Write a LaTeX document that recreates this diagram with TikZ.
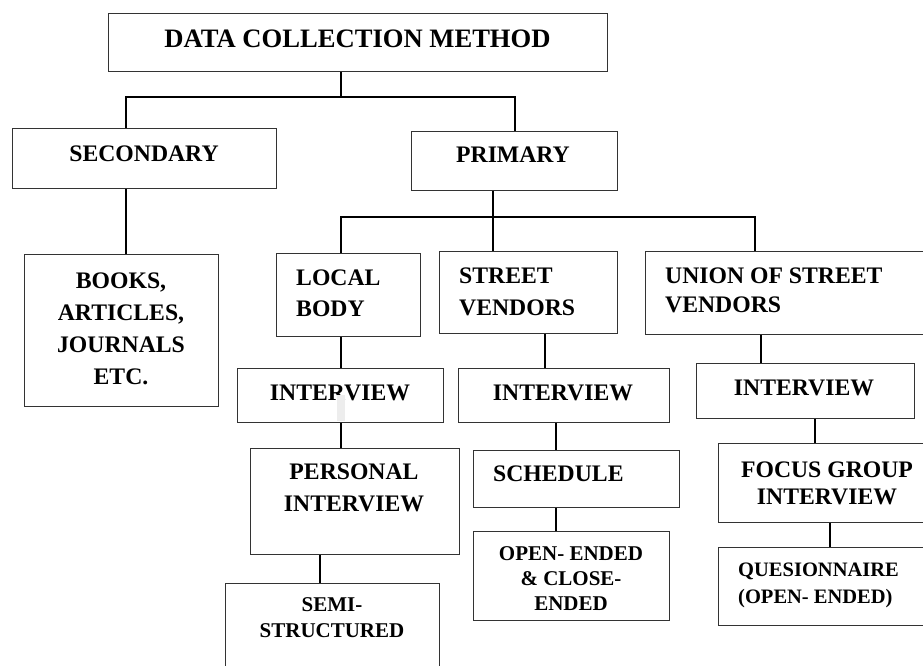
\documentclass[tikz,border=0pt]{standalone}
\usepackage{fontspec}
\setmainfont{Liberation Serif}
\begin{document}
\begin{tikzpicture}[x=1pt,y=-1pt,
  box/.style={draw=black!80, line width=0.9pt, inner sep=0pt, anchor=north west},
  conn/.style={line width=1.6pt, black},
  lbl/.style={inner sep=0pt, font=\bfseries\fontsize{23.7}{32}\selectfont},
  small/.style={inner sep=0pt, font=\bfseries\fontsize{21}{25.4}\selectfont}]
\useasboundingbox (0,0) rectangle (923,666);
\fill[white] (0,0) rectangle (923,666);
\clip (0,0) rectangle (923,666);

% boxes
\node[box, minimum width=499pt, minimum height=58pt]  (top)    at (108,13)  {};
\node[box, minimum width=264pt, minimum height=60pt]  (sec)    at (12,128)  {};
\node[box, minimum width=206pt, minimum height=59pt]  (prim)   at (411,131) {};
\node[box, minimum width=194pt, minimum height=152pt] (books)  at (24,254)  {};
\node[box, minimum width=144pt, minimum height=83pt]  (local)  at (276,253) {};
\node[box, minimum width=178pt, minimum height=82pt]  (street) at (439,251) {};
\node[box, minimum width=290pt, minimum height=83pt]  (union)  at (645,251) {};
\node[box, minimum width=206pt, minimum height=54pt]  (int1)   at (237,368) {};
\node[box, minimum width=211pt, minimum height=54pt]  (int2)   at (458,368) {};
\node[box, minimum width=218pt, minimum height=55pt]  (int3)   at (696,363) {};
\node[box, minimum width=209pt, minimum height=106pt] (pers)   at (250,448) {};
\node[box, minimum width=206pt, minimum height=57pt]  (sched)  at (473,450) {};
\node[box, minimum width=196pt, minimum height=89pt]  (openb)  at (473,531) {};
\node[box, minimum width=214pt, minimum height=100pt] (semi)   at (225,583) {};
\node[box, minimum width=217pt, minimum height=79pt]  (focus)  at (718,443) {};
\node[box, minimum width=217pt, minimum height=78pt]  (quest)  at (718,547) {};

% junction points of the connectors
\coordinate (j0)  at (341,97);
\coordinate (b1l) at (126,97);
\coordinate (b1r) at (515,97);
\coordinate (j2)  at (493,217);
\coordinate (b2l) at (341,217);
\coordinate (b2r) at (755,217);
\coordinate (c1) at (341,0);
\coordinate (c2) at (545,0);
\coordinate (c3) at (761,0);
\coordinate (c4) at (320,0);
\coordinate (c5) at (556,0);
\coordinate (c6) at (815,0);
\coordinate (c7) at (830,0);

% connectors
\draw[conn] (top.south -| j0) -- (j0);
\draw[conn] (sec.north -| b1l) |- (b1r) -- (prim.north -| b1r);
\draw[conn] (sec.south -| b1l) -- (books.north -| b1l);
\draw[conn] (prim.south -| j2) -- (j2);
\draw[conn] (local.north -| b2l) |- (b2r) -- (union.north -| b2r);
\draw[conn] (j2) -- (street.north -| j2);
\draw[conn] (local.south -| c1) -- (int1.north -| c1);
\draw[conn] (street.south -| c2) -- (int2.north -| c2);
\draw[conn] (union.south -| c3) -- (int3.north -| c3);
\draw[conn] (int1.south -| c1) -- (pers.north -| c1);
\draw[conn] (pers.south -| c4) -- (semi.north -| c4);
\draw[conn] (int2.south -| c5) -- (sched.north -| c5);
\draw[conn] (sched.south -| c5) -- (openb.north -| c5);
\draw[conn] (int3.south -| c6) -- (focus.north -| c6);
\draw[conn] (focus.south -| c7) -- (quest.north -| c7);

% labels
\node[lbl, anchor=north, font=\bfseries\fontsize{26.6}{32}\selectfont] (ttop) at (357.5,30) {DATA COLLECTION METHOD};
\node[lbl, anchor=north] (tsec)  at (144,145.7) {SECONDARY};
\node[lbl, anchor=north] (tprim) at (513,146.7) {PRIMARY};
\node[lbl, anchor=north, align=center] (tbooks) at (121,272.7) {BOOKS,\\ARTICLES,\\JOURNALS\\ETC.};
\node[lbl, anchor=north west, align=left, font=\bfseries\fontsize{23.7}{31.7}\selectfont] (tlocal) at (296,269.3) {LOCAL\\BODY};
\node[lbl, anchor=north west, align=left] (tstreet) at (459,267.7) {STREET\\VENDORS};
\node[lbl, anchor=north west, align=left, font=\bfseries\fontsize{23.7}{29.5}\selectfont] (tunion) at (665,267.3) {UNION OF STREET\\VENDORS};
\node[lbl, anchor=north] (tint1) at (340,385) {INTERVIEW};
\node[lbl, anchor=north] (tint2) at (563,385) {INTERVIEW};
\node[lbl, anchor=north] (tint3) at (804,380) {INTERVIEW};
\node[lbl, anchor=north, align=center, font=\bfseries\fontsize{23.7}{31.7}\selectfont] (tpers) at (354,464) {PERSONAL\\INTERVIEW};
\node[lbl, anchor=north west] (tsched) at (493,465.7) {SCHEDULE};
\node[small, anchor=north, align=center] (tsemi) at (332,597.7) {SEMI-\\STRUCTURED};
\node[small, anchor=north, align=center] (topen) at (571,546) {OPEN- ENDED\\\& CLOSE-\\ENDED};
\node[lbl, anchor=north, align=center, font=\bfseries\fontsize{23.7}{26.5}\selectfont] (tfocus) at (827,461.7) {FOCUS GROUP\\INTERVIEW};
\node[small, anchor=north west, align=left, font=\bfseries\fontsize{20.5}{26.7}\selectfont] (tquest) at (738,562.7) {QUESIONNAIRE\\(OPEN- ENDED)};

% pale patch lying over the first interview label
\fill[black!7] (337,395) rectangle (345,421);
\end{tikzpicture}
\end{document}
